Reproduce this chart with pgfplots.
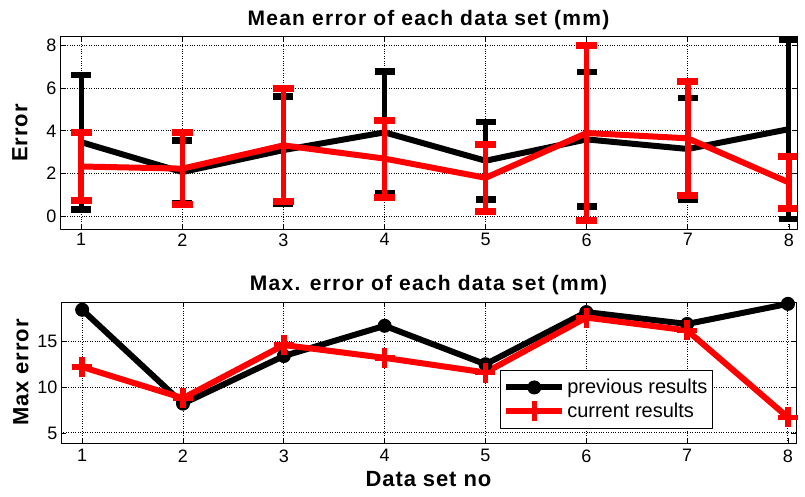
\documentclass[border=0pt]{standalone}
\usepackage{pgfplots}
\pgfplotsset{compat=1.18}
\usepackage{fontspec}
\setmainfont{Liberation Sans}

\pgfplotstableread{
x y e
1 3.47 3.16
2 2.07 1.48
3 3.10 2.50
4 3.93 2.86
5 2.60 1.81
6 3.60 3.15
7 3.15 2.39
8 4.08 4.20
}\prevmean
\pgfplotstableread{
x y e
1 2.33 1.60
2 2.23 1.68
3 3.32 2.65
4 2.70 1.80
5 1.80 1.58
6 3.90 4.08
7 3.65 2.68
8 1.58 1.20
}\curmean
\pgfplotstableread{
x y
1 18.45
2 8.2
3 13.4
4 16.7
5 12.5
6 18.2
7 16.9
8 19.1
}\prevmax
\pgfplotstableread{
x y
1 12.2
2 8.8
3 14.6
4 13.2
5 11.6
6 17.6
7 16.2
8 6.7
}\curmax

\begin{document}
\begin{tikzpicture}
\useasboundingbox (0,0) rectangle (805pt,-497pt);
\pgfplotsset{
  common/.style={
    scale only axis,
    xmin=0.79, xmax=8.08,
    xtick={1,...,8},
    grid=major,
    major grid style={black, dotted, line width=0.9pt},
    tick align=inside,
    axis line style={line width=1pt},
    tick style={black, line width=0.8pt},
    major tick length=5pt,
    ticklabel style={font=\fontsize{18}{18}\selectfont},
    /pgf/number format/assume math mode=true,
    title style={font=\fontsize{21}{21}\selectfont\bfseries\addfontfeatures{LetterSpace=6}},
    label style={font=\fontsize{22}{22}\selectfont\bfseries\addfontfeatures{LetterSpace=4}},
    line join=round,
  }
}
\begin{axis}[common,
  at={(60pt,-229pt)}, anchor=south west,
  width=737pt, height=192pt,
  ymin=-0.6, ymax=8.4, ytick={0,2,4,6,8},
  title={Mean error of each data set (mm)},
  title style={at={(0.5,1)}, anchor=south, yshift=-2pt},
  ylabel={Error},
  ylabel style={at={(axis description cs:0,0.5)}, anchor=south, yshift=29pt},
  xticklabel style={yshift=-1pt},
]
\addplot[black, line width=6pt, error bars/.cd, y dir=both, y explicit,
  error bar style={line width=5pt}, error mark options={black, line width=6.5pt, mark size=10pt, rotate=90}]
  table[x=x, y=y, y error=e] {\prevmean};
\addplot[red, line width=6pt, error bars/.cd, y dir=both, y explicit,
  error bar style={line width=5.5pt}, error mark options={red, line width=7pt, mark size=10.5pt, rotate=90}]
  table[x=x, y=y, y error=e] {\curmean};
\end{axis}

\begin{axis}[common,
  at={(61pt,-443pt)}, anchor=south west,
  width=735pt, height=141pt,
  ymin=3.9, ymax=19.3, ytick={5,10,15},
  title={Max. error of each data set (mm)},
  title style={at={(0.5,1)}, anchor=south, yshift=-2pt},
  ylabel={Max error},
  ylabel style={at={(axis description cs:0,0.5)}, anchor=south, yshift=29pt},
  xlabel={Data set no},
  xlabel style={yshift=-2pt},
  xticklabel style={yshift=-3pt},
  legend style={at={(0.597,0.518)}, anchor=north west, draw=black, line width=1pt, fill=white,
    font=\fontsize{20}{20}\selectfont, inner xsep=3pt, inner ysep=7pt, row sep=4pt,
    /tikz/every even column/.append style={column sep=0pt}},
  legend cell align=left,
  legend image code/.code={\draw[mark repeat=2, mark phase=2, #1] plot coordinates {(0pt,0pt) (28pt,0pt) (56pt,0pt)};},
]
\addplot[black, line width=6pt, mark=*, mark size=6.5pt, mark options={line width=1pt, fill=black}]
  table[x=x, y=y] {\prevmax};
\addlegendentry{previous results}
\addplot[red, line width=6pt, mark=+, mark size=10pt, mark options={line width=5.5pt}]
  table[x=x, y=y] {\curmax};
\addlegendentry{current results}
\end{axis}
\end{tikzpicture}
\end{document}
